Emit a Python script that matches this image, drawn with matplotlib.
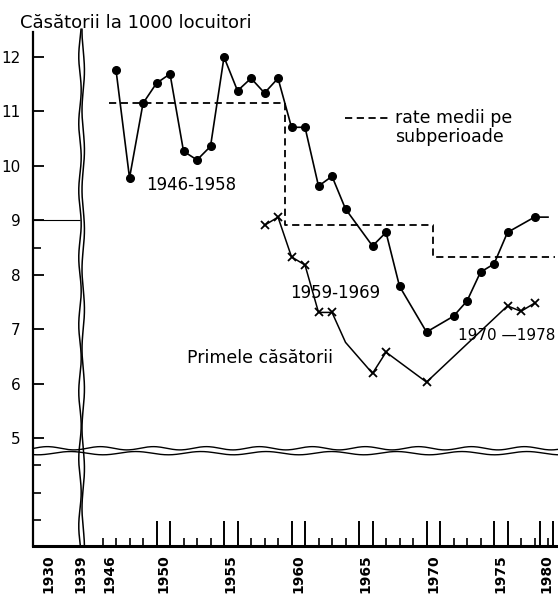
import numpy as np
import matplotlib
matplotlib.use("Agg")
import matplotlib.pyplot as plt

# rata nuptialitatii (puncte) - casatorii la 1000 locuitori
dot_years = [1946, 1947, 1948, 1949, 1950, 1951, 1952, 1953, 1954, 1955, 1956, 1957, 1958,
             1959, 1960, 1961, 1962, 1963, 1965, 1966, 1967, 1969,
             1971, 1972, 1973, 1974, 1975, 1977, 1978]
dot_rates = [11.76, 9.78, 11.15, 11.52, 11.69, 10.27, 10.11, 10.36, 12.0, 11.38, 11.61, 11.34, 11.61,
             10.71, 10.71, 9.63, 9.81, 9.21, 8.53, 8.78, 7.79, 6.95,
             7.24, 7.52, 8.05, 8.20, 8.78, 9.06, 9.06]
dot_unmarked = [1978]

# primele casatorii (x)
first_years = [1957, 1958, 1959, 1960, 1961, 1962, 1963, 1965, 1966, 1969, 1975, 1976, 1977]
first_rates = [8.91, 9.06, 8.33, 8.18, 7.31, 7.31, 6.76, 6.19, 6.58, 6.03, 7.43, 7.33, 7.48]
first_unmarked = [1963]

# rate medii pe subperioade
period_starts = [1946, 1959, 1970]
period_ends = [1958, 1969, 1978]
period_means = [11.16, 8.92, 8.32]

prewar_years = [1930, 1939]
prewar_rate = 9.0

label_years = [1946, 1950, 1955, 1960, 1965, 1970, 1975, 1980]
y_labels = [5, 6, 7, 8, 9, 10, 11, 12]
y_minor = [3.5, 4, 4.5, 8.5]

X0, X1 = 1939.85, 1978.74
Y0, Y1 = 3.02, 12.46
BREAK_X = 1943.45


def prewar_pos(year):
    # portiunea comprimata dinaintea intreruperii axei
    return 1941.0 + (year - 1930) * 0.26


plt.rcParams['font.family'] = ['DejaVu Sans']

fig = plt.figure(figsize=(5.58, 5.96), dpi=100)
ax = fig.add_axes([33 / 558, 50 / 596, 525 / 558, 514 / 596])
ax.set_xlim(X0, X1)
ax.set_ylim(Y0, Y1)

# serii
marks = [i for i, y in enumerate(dot_years) if y not in dot_unmarked]
ax.plot(dot_years, dot_rates, color='black', lw=1.2, marker='o', markersize=5.5,
        markevery=marks)
marks = [i for i, y in enumerate(first_years) if y not in first_unmarked]
ax.plot(first_years, first_rates, color='black', lw=1.1, marker='x', markersize=6,
        markeredgewidth=1.3, markevery=marks)

# medii pe subperioade (trepte)
step_x, step_y = [], []
for s, e, m in zip(period_starts, period_ends, period_means):
    step_x += [s - 0.5, e + 0.5]
    step_y += [m, m]
ax.plot(step_x, step_y, color='black', lw=1.3, linestyle=(0, (4, 2.5)))

# media antebelica
ax.hlines(prewar_rate, X0, BREAK_X - 0.15, color='black', lw=0.8)

# intreruperi de axa (linii ondulate duble)
t = np.linspace(Y0, Y1 + 0.05, 300)
ax.plot(BREAK_X - 0.12 + 0.09 * np.sin(t * 5.1), t, color='black', lw=1.1, clip_on=False)
ax.plot(BREAK_X + 0.12 + 0.09 * np.sin(t * 4.3 + 1.3), t, color='black', lw=1.1, clip_on=False)
u = np.linspace(X0, X1, 400)
ax.plot(u, 4.815 + 0.03 * np.sin(u * 1.6), color='black', lw=1.0, clip_on=False)
ax.plot(u, 4.725 + 0.03 * np.sin(u * 1.3 + 2.0), color='black', lw=1.0, clip_on=False)

# axe
for side in ['top', 'right']:
    ax.spines[side].set_visible(False)
ax.spines['left'].set_linewidth(1.6)
ax.spines['bottom'].set_linewidth(2.2)

label_pos = [prewar_pos(y) for y in prewar_years] + [min(y - 0.5, 1977.9) for y in label_years]
tall = []
for p in label_pos[3:]:
    tall += [p - 0.5, p + 0.5]
small = [y for y in range(1945, 1979) if min(abs(y - p) for p in tall) > 0.3]
ax.set_xticks(tall)
ax.set_xticks(small, minor=True)
ax.tick_params(axis='x', which='major', direction='in', length=18, width=1.4, labelbottom=False)
ax.tick_params(axis='x', which='minor', direction='in', length=6, width=1.2, labelbottom=False)

sec = ax.secondary_xaxis('bottom')
sec.set_xticks(label_pos, [str(y) for y in prewar_years + label_years])
sec.tick_params(length=0, pad=6, labelsize=10)
sec.spines['bottom'].set_visible(False)
for lab in sec.get_xticklabels():
    lab.set_rotation(90)
    lab.set_fontweight('bold')

ax.set_yticks(y_labels)
ax.set_yticks(y_minor, minor=True)
ax.tick_params(axis='y', which='major', direction='in', length=8, width=1.3, pad=9, labelsize=11)
ax.tick_params(axis='y', which='minor', direction='in', length=6, width=1.2)

# texte
fig.text(20 / 558, 1 - 23 / 596, 'Căsătorii la 1000 locuitori', fontsize=13, va='center')
ax.text(1951.6, 9.65, '1946-1958', fontsize=12, ha='center', va='center')
ax.text(1962.2, 7.66, '1959-1969', fontsize=12, ha='center', va='center')
ax.text(1978.55, 6.89, '1970 —1978', fontsize=11, ha='right', va='center')
ax.text(1956.7, 6.47, 'Primele căsătorii', fontsize=12.5, ha='center', va='center')

ax.plot([0.594, 0.676], [0.833, 0.833], transform=ax.transAxes, color='black',
        lw=1.3, linestyle=(0, (4, 2.5)))
ax.text(0.690, 0.814, 'rate medii pe\nsubperioade', transform=ax.transAxes,
        fontsize=12.5, va='center', ha='left', linespacing=1.1)

fig.savefig('out.png', dpi=100)
